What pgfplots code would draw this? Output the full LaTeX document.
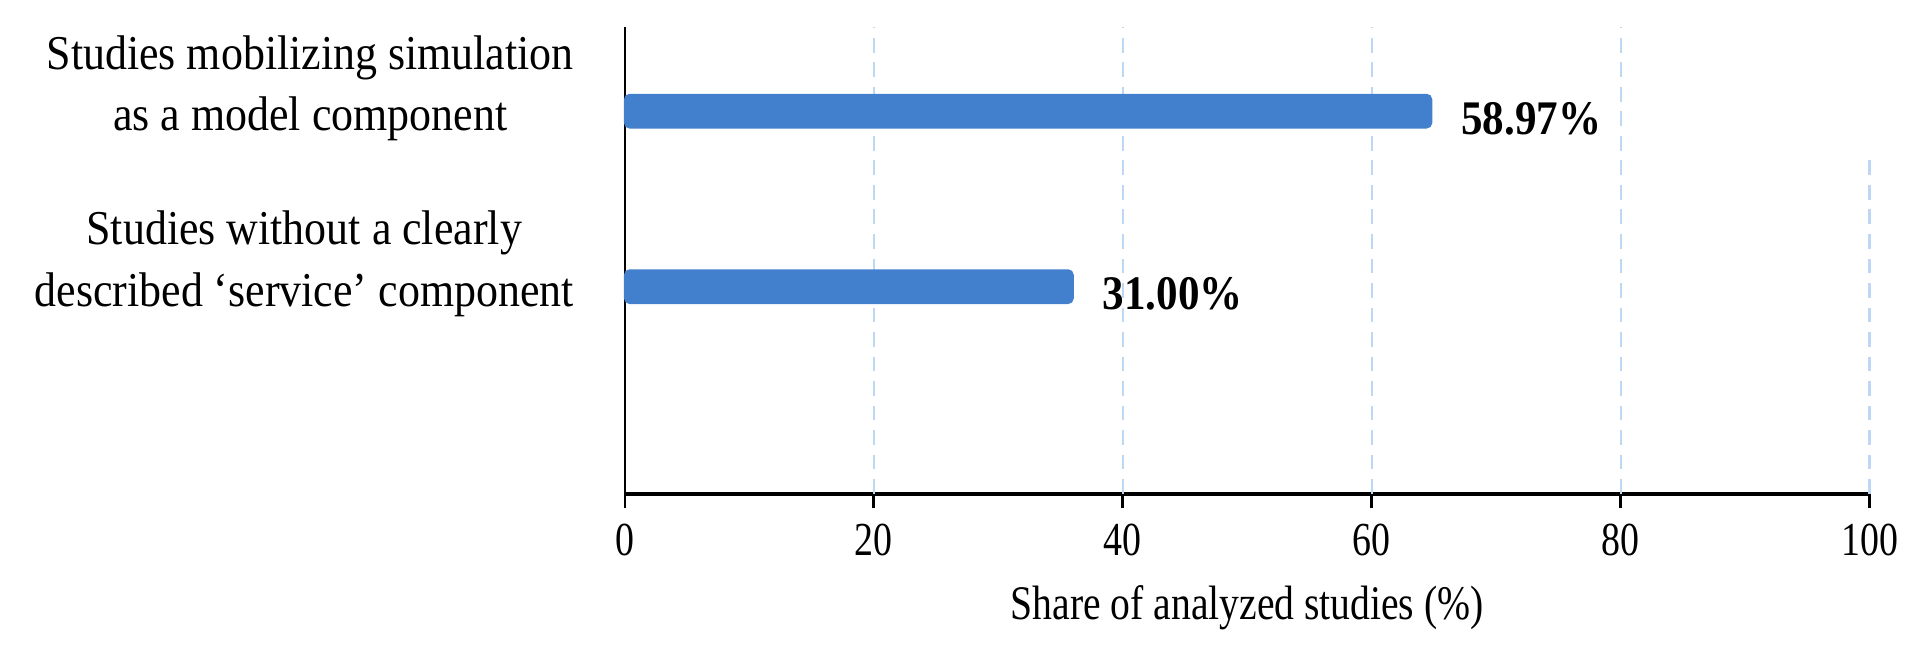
\documentclass[border=0pt]{standalone}
\usepackage{graphicx}
\usepackage{pgfplots}
\pgfplotsset{compat=1.18}
\usepackage{fontspec}
\setmainfont{Liberation Serif}
\definecolor{barblue}{RGB}{66,128,206}
\definecolor{gridblue}{RGB}{190,215,245}
\newcommand{\cat}[2]{\scalebox{1.02}[1.13]{\fontsize{10}{12.6}\selectfont\begin{tabular}{@{}c@{}}#1\\#2\end{tabular}}}
\newcommand{\vs}[1]{\scalebox{1}[1.12]{#1}}
\newcommand{\tk}[1]{\scalebox{0.88}[1.1]{#1}}
\begin{document}
\begin{tikzpicture}
\path[use as bounding box] (0,0) rectangle (156.8mm,53.46mm);
\begin{axis}[
  at={(51mm,13.16mm)}, anchor=south west,
  scale only axis, width=101.6mm, height=38.1mm,
  xmin=0, xmax=100, ymin=-1.18, ymax=1.48,
  xbar, bar width=2.7mm,
  axis x line*=bottom, axis y line*=left,
  x axis line style={line width=0.9pt},
  y axis line style={line width=0.5pt},
  xtick={0,20,40,60,80,100},
  xticklabels={\tk{0},\tk{20},\tk{40},\tk{60},\tk{80},\tk{100}},
  ytick={0,1},
  yticklabels={{\cat{Studies without a clearly}{described ‘service’ component}},{\cat{Studies mobilizing simulation}{as a model component}}},
  yticklabel style={inner sep=0pt, xshift=-2.9mm, yshift=1.9mm},
  ytick style={draw=none},
  tick align=outside, major tick length=1.2mm,
  xtick style={black, line width=0.6pt},
  xticklabel style={font=\fontsize{10}{12}\selectfont, yshift=0mm},
  xlabel={\scalebox{0.92}[1.12]{Share of analyzed studies (\%)}},
  xlabel style={font=\fontsize{10}{12}\selectfont, yshift=0mm},
  nodes near coords,
  point meta=explicit symbolic,
  nodes near coords style={font=\bfseries\fontsize{10}{12}\selectfont, anchor=west, xshift=1.2mm, yshift=-0.6mm, black},
  clip=false,
]
\pgfplotsinvokeforeach{20,40,60,80}{
  \draw[gridblue, line width=0.5pt, dash pattern=on 1.2mm off 0.8mm] (axis cs:#1,-1.18) -- (axis cs:#1,1.48);
}
\draw[gridblue, line width=0.5pt, dash pattern=on 1.2mm off 0.8mm] (axis cs:100,-1.18) -- (axis cs:100,0.74);
\addplot[fill=barblue, draw=barblue, rounded corners=0.4mm] coordinates {
  (64.8,1) [\vs{58.97\%}]
  (36.0,0) [\vs{31.00\%}]
};
\end{axis}
\end{tikzpicture}
\end{document}
